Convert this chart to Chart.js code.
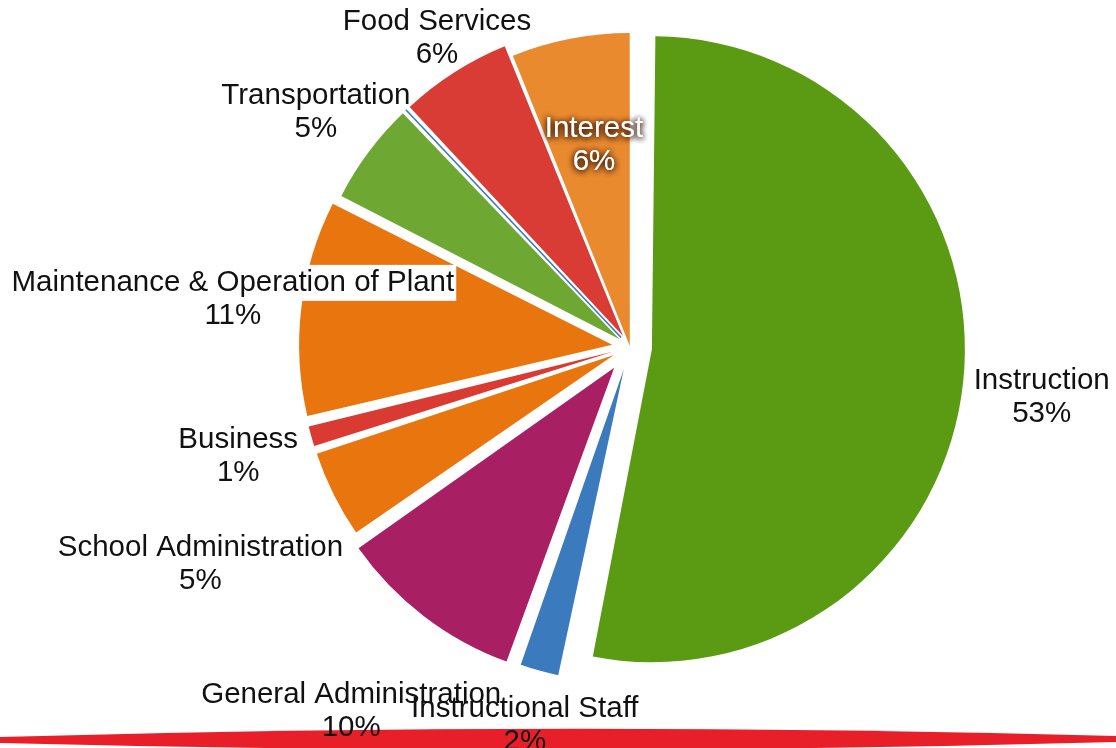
<!DOCTYPE html>
<html>
<head>
<meta charset="utf-8">
<script src="https://cdn.jsdelivr.net/npm/chart.js@4.4.1/dist/chart.umd.min.js"></script>
<style>
  html, body { margin: 0; padding: 0; background: #ffffff; }
  #wrap { width: 1116px; height: 748px; position: relative; }
</style>
</head>
<body>
<div id="wrap"><canvas id="c"></canvas></div>
<script>
// ---- data ----
const categories = [
  "Instruction",
  "Instructional Staff",
  "General Administration",
  "School Administration",
  "Business",
  "Maintenance & Operation of Plant",
  "Transportation",
  "Other",
  "Food Services",
  "Interest"
];
const shares = [53.2, 2.3, 9.8, 4.7, 1.3, 11.2, 5.4, 0.1, 5.9, 6.1];

// ---- styling ----
const sliceColors = ["#5b9a13", "#3b7bbd", "#a91f63", "#e8750d", "#d93a31",
                     "#e8750d", "#6ea832", "#3b7bbd", "#d93c35", "#e98a2f"];
const sliceBorder = [0, 0, 0, 0, 0, 0, 0, 1.6, 0, 0];
const sliceShift = [22, 23, 26, 18, 18, 18, 13, 13, 13, 1];          // px each slice is pulled out
const labelDistance = [1.322, 1.245, 1.465, 1.533, 1.30, 1.278, 1.252, 1.25, 1.163, 0.655]; // x radius
const labelNudgeX = [0, 0, 0, 0, 0, 0, 0, 0, 3, 3];
const labelNudgeY = [9, 3, 0, 4, 0, 0, 0, 0, -2, 0];
const labelInside = [false, false, false, false, false, false, false, false, false, true];
const labelBoxed = [false, false, false, false, false, true, false, false, false, false];
const RADIUS = 313;

const radiusFix = {
  id: 'radiusFix',
  beforeDatasetsDraw(chart) {
    const meta = chart.getDatasetMeta(0);
    const R = meta.controller.outerRadius;
    meta.data.forEach(arc => {
      const off = (arc.options.offset || 0) / 4;
      const circ = arc.endAngle - arc.startAngle;
      const fix = 1 - Math.sin(Math.min(Math.PI, circ));
      arc.outerRadius = R - off * fix;
    });
  }
};

const decorAndLabels = {
  id: 'decorAndLabels',
  afterDatasetsDraw(chart) {
    const ctx = chart.ctx;
    // red brush stroke along the bottom
    ctx.save();
    ctx.beginPath();
    ctx.moveTo(0, 737);
    ctx.quadraticCurveTo(560, 721, 1116, 736);
    ctx.lineTo(1116, 742);
    ctx.quadraticCurveTo(560, 757, 0, 743);
    ctx.closePath();
    ctx.fillStyle = "#e81f28";
    ctx.fill();
    ctx.restore();

    const meta = chart.getDatasetMeta(0);
    const R = meta.controller.outerRadius;
    const total = shares.reduce((a, b) => a + b, 0);
    ctx.save();
    ctx.font = '29.5px "Liberation Sans", Arial, Helvetica, sans-serif';
    ctx.textAlign = 'center';
    ctx.textBaseline = 'middle';
    meta.data.forEach((arc, i) => {
      const pct = shares[i] / total * 100;
      if (pct < 0.5) return;
      const mid = (arc.startAngle + arc.endAngle) / 2;
      const d = labelDistance[i] * R;
      const x = arc.x + Math.cos(mid) * d + labelNudgeX[i];
      const y = arc.y + Math.sin(mid) * d + labelNudgeY[i];
      const l1 = categories[i];
      const l2 = Math.round(pct) + '%';
      const y1 = y - 16.5, y2 = y + 16.5;
      if (labelBoxed[i]) {
        const w = ctx.measureText(l1).width;
        ctx.fillStyle = '#ffffff';
        ctx.fillRect(x - w / 2 - 2, y1 - 18, w + 4, 36);
      }
      if (labelInside[i]) {
        ctx.save();
        ctx.fillStyle = '#ffffff';
        ctx.shadowColor = 'rgba(45,15,0,1)';
        ctx.shadowBlur = 6;
        ctx.shadowOffsetX = 0;
        ctx.shadowOffsetY = 1;
        ctx.fillText(l1, x, y1);
        ctx.fillText(l2, x, y2);
        ctx.fillText(l1, x, y1);
        ctx.fillText(l2, x, y2);
        ctx.restore();
      } else {
        ctx.fillStyle = '#111111';
        ctx.fillText(l1, x, y1);
        ctx.fillText(l2, x, y2);
      }
    });
    ctx.restore();
  }
};

new Chart(document.getElementById('c'), {
  type: 'pie',
  data: {
    labels: categories,
    datasets: [{
      data: shares,
      backgroundColor: sliceColors,
      borderColor: sliceColors,
      borderWidth: sliceBorder,
      offset: sliceShift.map(s => s * 4)
    }]
  },
  options: {
    responsive: true,
    maintainAspectRatio: false,
    animation: false,
    events: [],
    radius: RADIUS,
    layout: { padding: { left: 144, right: 0, top: 0, bottom: 54 } },
    plugins: {
      legend: { display: false },
      tooltip: { enabled: false }
    }
  },
  plugins: [radiusFix, decorAndLabels]
});
</script>
</body>
</html>
